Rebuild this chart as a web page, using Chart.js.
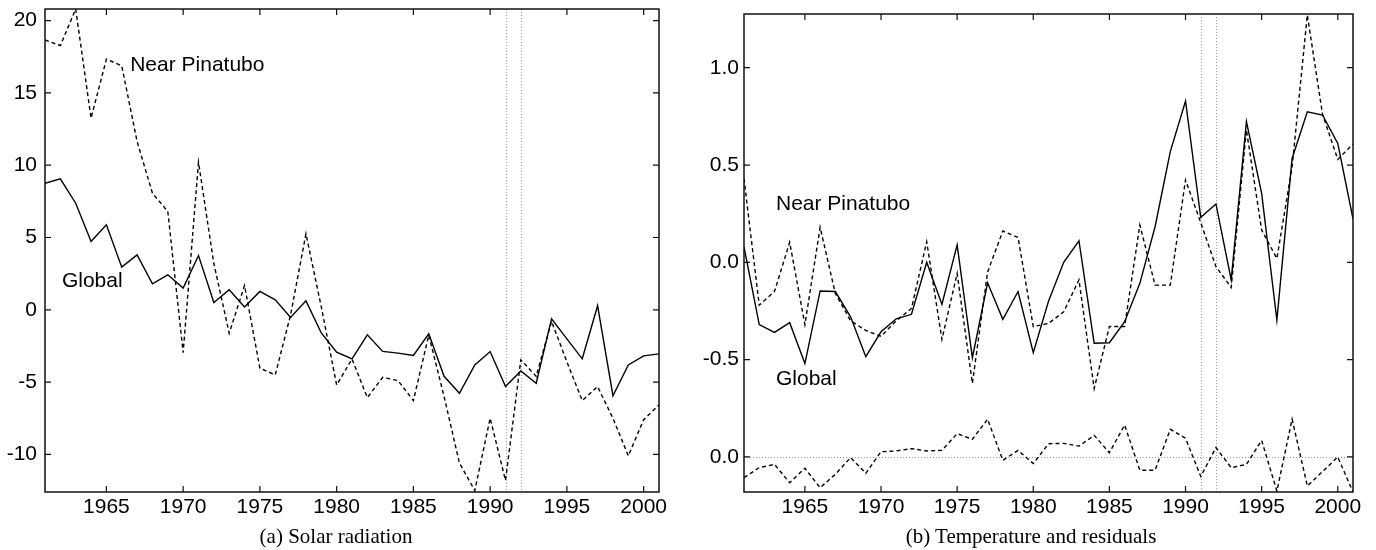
<!DOCTYPE html>
<html>
<head>
<meta charset="utf-8">
<script src="https://cdn.jsdelivr.net/npm/chart.js@4.4.1/dist/chart.umd.min.js"></script>
<style>
  html, body { margin: 0; padding: 0; background: #fff; }
  body { width: 1376px; height: 550px; position: relative; overflow: hidden; }
  .panel { position: absolute; top: 0; height: 550px; }
  #leftBox { left: 0; width: 676px; }
  #rightBox { left: 690px; width: 686px; }
  .caption {
    position: absolute; top: 524px; width: 400px; text-align: center;
    font-family: "Liberation Serif", "Times New Roman", serif; font-size: 21px;
    line-height: 25px; color: #000;
  }
</style>
</head>
<body>
  <div class="panel" id="leftBox"><canvas id="solarChart"></canvas></div>
  <div class="panel" id="rightBox"><canvas id="tempChart"></canvas></div>
  <div class="caption" style="left:136px">(a) Solar radiation</div>
  <div class="caption" style="left:831px">(b) Temperature and residuals</div>
<script>
  // years 1961..2001
  const years = [1961, 1962, 1963, 1964, 1965, 1966, 1967, 1968, 1969, 1970,
    1971, 1972, 1973, 1974, 1975, 1976, 1977, 1978, 1979, 1980,
    1981, 1982, 1983, 1984, 1985, 1986, 1987, 1988, 1989, 1990,
    1991, 1992, 1993, 1994, 1995, 1996, 1997, 1998, 1999, 2000, 2001];

  // (a) solar radiation
  const solarGlobal = [8.75, 9.05, 7.37, 4.72, 5.88, 2.95, 3.8, 1.8, 2.42, 1.5,
    3.75, 0.5, 1.38, 0.19, 1.27, 0.69, -0.53, 0.62, -1.6, -2.93,
    -3.39, -1.73, -2.88, -3.0, -3.16, -1.66, -4.6, -5.77, -3.81, -2.89,
    -5.31, -4.23, -5.08, -0.62, -2.01, -3.39, 0.28, -5.94, -3.81, -3.19, -3.05];
  const solarPinatubo = [18.66, 18.27, 20.8, 13.25, 17.33, 16.87, 11.64, 8.06, 6.8, -2.96,
    10.2, 3.2, -1.62, 1.68, -4.04, -4.5, -0.35, 5.25, 0.2, -5.2,
    -3.4, -6.07, -4.67, -4.9, -6.28, -1.75, -6.0, -10.6, -12.5, -7.5,
    -11.8, -3.46, -4.6, -0.8, -3.6, -6.28, -5.31, -7.5, -10.1, -7.6, -6.58];

  // (b) temperature and residuals
  const tempGlobal = [0.08, -0.32, -0.36, -0.31, -0.52, -0.147, -0.15, -0.28, -0.485, -0.357,
    -0.29, -0.267, 0.0, -0.216, 0.09, -0.49, -0.105, -0.293, -0.15, -0.464,
    -0.2, 0.0, 0.111, -0.416, -0.413, -0.305, -0.108, 0.183, 0.569, 0.829,
    0.231, 0.3, -0.09, 0.723, 0.355, -0.297, 0.534, 0.774, 0.757, 0.611, 0.224];
  const tempPinatubo = [0.43, -0.22, -0.15, 0.103, -0.32, 0.18, -0.16, -0.3, -0.35, -0.38,
    -0.3, -0.237, 0.106, -0.396, -0.057, -0.622, -0.05, 0.161, 0.128, -0.33,
    -0.314, -0.254, -0.09, -0.648, -0.33, -0.33, 0.192, -0.117, -0.117, 0.423,
    0.204, -0.022, -0.129, 0.68, 0.166, 0.02, 0.49, 1.271, 0.76, 0.529, 0.608];
  const residuals = [-0.106, -0.055, -0.038, -0.132, -0.058, -0.158, -0.089, -0.003, -0.084, 0.027,
    0.031, 0.043, 0.031, 0.034, 0.12, 0.091, 0.194, -0.017, 0.034, -0.034,
    0.068, 0.07, 0.056, 0.111, 0.022, 0.164, -0.068, -0.068, 0.142, 0.096,
    -0.1, 0.048, -0.055, -0.038, 0.085, -0.175, 0.194, -0.149, -0.075, 0.0, -0.18];
  const residualOffset = -1.0; // residuals are drawn shifted down one unit

  const xTicks = [1965, 1970, 1975, 1980, 1985, 1990, 1995, 2000];
  const solarTicks = [-10, -5, 0, 5, 10, 15, 20];
  const tempTicks = [-1.0, -0.5, 0.0, 0.5, 1.0];
  const eruptionYears = [1991, 1992];

  const SANS = '"Liberation Sans", Arial, Helvetica, sans-serif';
  const pts = (arr, off = 0) => years.map((yr, i) => ({ x: yr, y: arr[i] + off }));

  // frame, inward ticks, dotted guides and the text labels
  const framePlugin = {
    id: 'frame',
    beforeDatasetsDraw(chart, args, opts) {
      const { ctx, chartArea: a, scales: { x, y } } = chart;
      ctx.save();
      ctx.strokeStyle = '#9a9a9a';
      ctx.lineWidth = 1;
      ctx.setLineDash([1, 2]);
      eruptionYears.forEach(yr => {
        const px = Math.round(x.getPixelForValue(yr)) + 0.5;
        ctx.beginPath(); ctx.moveTo(px, a.top); ctx.lineTo(px, a.bottom); ctx.stroke();
      });
      if (opts.zeroLine !== undefined) {
        const py = Math.round(y.getPixelForValue(opts.zeroLine)) + 0.5;
        ctx.beginPath(); ctx.moveTo(a.left, py); ctx.lineTo(a.right, py); ctx.stroke();
      }
      ctx.restore();
    },
    afterDatasetsDraw(chart, args, opts) {
      const { ctx, chartArea: a, scales: { x, y } } = chart;
      ctx.save();
      ctx.strokeStyle = '#111';
      ctx.lineWidth = 1.5;
      ctx.strokeRect(a.left, a.top, a.right - a.left, a.bottom - a.top);
      ctx.lineWidth = 1.2;
      const tl = 6;
      xTicks.forEach(v => {
        const px = x.getPixelForValue(v);
        ctx.beginPath();
        ctx.moveTo(px, a.top); ctx.lineTo(px, a.top + tl);
        ctx.moveTo(px, a.bottom); ctx.lineTo(px, a.bottom - tl);
        ctx.stroke();
      });
      opts.yTicks.forEach(v => {
        const py = y.getPixelForValue(v);
        ctx.beginPath();
        ctx.moveTo(a.left, py); ctx.lineTo(a.left + tl, py);
        ctx.moveTo(a.right, py); ctx.lineTo(a.right - tl, py);
        ctx.stroke();
      });
      ctx.fillStyle = '#000';
      ctx.font = '21px ' + SANS;
      ctx.textAlign = 'left';
      ctx.textBaseline = 'middle';
      opts.labels.forEach(l => {
        ctx.fillText(l.text, x.getPixelForValue(l.x), y.getPixelForValue(l.y));
      });
      ctx.restore();
    }
  };

  function makeChart(id, datasets, cfg) {
    const ctx = document.getElementById(id).getContext('2d');
    return new Chart(ctx, {
      type: 'line',
      data: { datasets },
      options: {
        responsive: true,
        maintainAspectRatio: false,
        animation: false,
        events: [],
        layout: { padding: { left: 0, right: cfg.padRight, top: cfg.padTop, bottom: 0 } },
        elements: { point: { radius: 0 }, line: { tension: 0, borderWidth: 1.4, borderColor: '#000' } },
        plugins: {
          legend: { display: false },
          tooltip: { enabled: false },
          frame: { yTicks: cfg.yTicks, labels: cfg.labels, zeroLine: cfg.zeroLine }
        },
        scales: {
          x: {
            type: 'linear', min: 1961, max: 2001,
            afterBuildTicks: s => { s.ticks = xTicks.map(v => ({ value: v })); },
            afterFit: s => { s.height = 58; s.paddingLeft = 0; s.paddingRight = 0; },
            grid: { display: false, drawTicks: false },
            border: { display: false },
            ticks: { color: '#000', font: { family: SANS, size: 21 }, padding: 3, maxRotation: 0,
              callback: v => String(v) }
          },
          y: {
            min: cfg.yMin, max: cfg.yMax,
            afterBuildTicks: s => { s.ticks = cfg.yTicks.map(v => ({ value: v })); },
            afterFit: s => { s.width = cfg.yWidth; s.paddingTop = 0; s.paddingBottom = 0; },
            grid: { display: false, drawTicks: false },
            border: { display: false },
            ticks: { color: '#000', font: { family: SANS, size: 21 }, padding: cfg.yPad,
              callback: cfg.yFormat }
          }
        }
      },
      plugins: [framePlugin]
    });
  }

  makeChart('solarChart', [
    { label: 'Global', data: pts(solarGlobal) },
    { label: 'Near Pinatubo', data: pts(solarPinatubo), borderDash: [4, 3] }
  ], {
    yMin: -12.6, yMax: 20.8, yTicks: solarTicks, yWidth: 45, yPad: 8,
    padRight: 17, padTop: 9,
    yFormat: v => String(v),
    labels: [
      { text: 'Near Pinatubo', x: 1966.55, y: 16.9 },
      { text: 'Global', x: 1962.1, y: 1.97 }
    ]
  });

  makeChart('tempChart', [
    { label: 'Global', data: pts(tempGlobal) },
    { label: 'Near Pinatubo', data: pts(tempPinatubo), borderDash: [4, 3] },
    { label: 'Residuals', data: pts(residuals, residualOffset), borderDash: [4, 3] }
  ], {
    yMin: -1.18, yMax: 1.276, yTicks: tempTicks, yWidth: 54, yPad: 5,
    padRight: 23, padTop: 14, zeroLine: residualOffset,
    yFormat: v => (Math.abs(v - residualOffset) < 1e-9 ? 0 : v).toFixed(1),
    labels: [
      { text: 'Near Pinatubo', x: 1963.1, y: 0.297 },
      { text: 'Global', x: 1963.1, y: -0.602 }
    ]
  });
</script>
</body>
</html>
